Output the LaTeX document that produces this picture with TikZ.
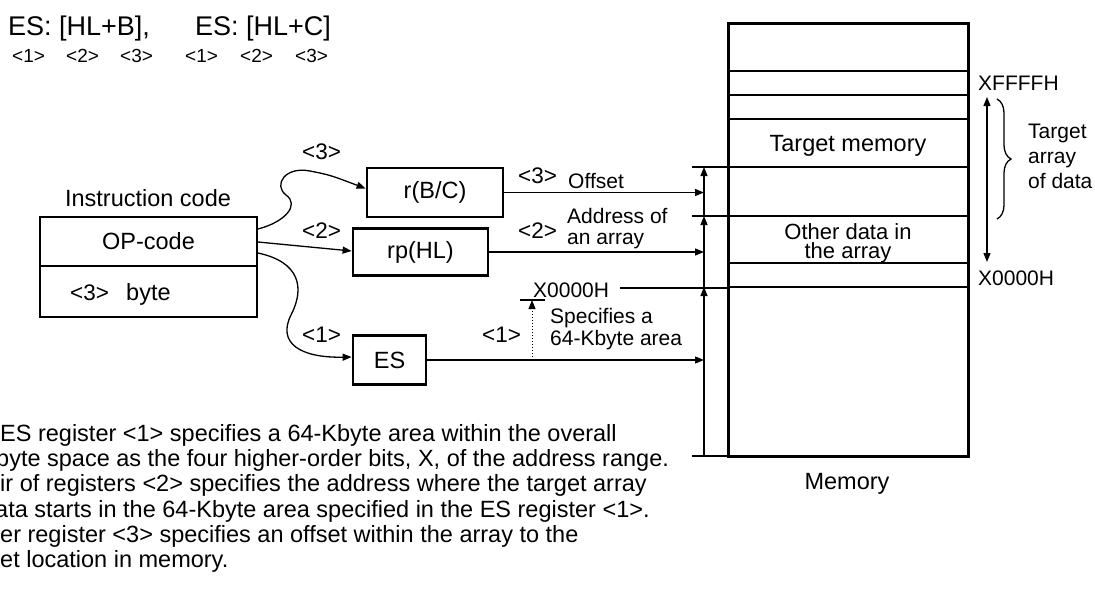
\documentclass[tikz,border=0pt]{standalone}
\usepackage{fontspec}
\setmainfont{Liberation Sans}
\usetikzlibrary{arrows.meta,decorations.pathreplacing,calc}
\newcommand\myfs[1]{\fontsize{#1}{#1}\selectfont}
\begin{document}
\begin{tikzpicture}[x=1pt,y=-1pt,
  box/.style={draw,line width=2.8pt,inner sep=0pt,font=\myfs{23.5}},
  lbl/.style={inner sep=0pt,font=\myfs{21},anchor=base west},
  num/.style={inner sep=0pt,font=\myfs{22.5},anchor=base west},
  sub/.style={inner sep=0pt,font=\myfs{19},anchor=base west},
  big/.style={inner sep=0pt,font=\myfs{23.5}},
  note/.style={inner sep=0pt,font=\myfs{23.5},anchor=base west},
  tip/.style={-{Triangle[length=9pt,width=7pt]}},
  conn/.style={line width=1.3pt,tip},
  thinline/.style={line width=1.3pt},
  ]
\useasboundingbox (0,0) rectangle (1095,590);
% title
\node[inner sep=0pt,font=\myfs{27},anchor=base west] (t1) at (8,35) {ES: [HL+B],};
\node[inner sep=0pt,font=\myfs{27},anchor=base west] (t2) at (195,35) {ES: [HL+C]};
\node[sub] (a1) at (12,62) {<1>};
\node[sub] (a2) at (66,62) {<2>};
\node[sub] (a3) at (120,62) {<3>};
\node[sub] (b1) at (185,62) {<1>};
\node[sub] (b2) at (240,62) {<2>};
\node[sub] (b3) at (295,62) {<3>};
% instruction
\node[big,anchor=base] (ic) at (148,206) {Instruction code};
\node[box,minimum width=217pt,minimum height=49pt] (op) at (148.5,241.5) {OP-code};
\node[box,minimum width=217pt,minimum height=51pt] (bb) at (148.5,291.5) {};
\node[num] (bn) at (70,300) {<3>};
\node[big,anchor=base west] (bt) at (126,300) {byte};
% registers
\node[box,minimum width=136pt,minimum height=49pt] (r) at (435,192.5) {r(B/C)};
\node[box,minimum width=135pt,minimum height=47pt] (rp) at (420.5,252) {rp(HL)};
\node[box,minimum width=73pt,minimum height=49pt] (es) at (389.5,360) {ES};
\node[num] (l3) at (302,159) {<3>};
\node[num] (l2) at (302,238) {<2>};
\node[num] (l1) at (302,342) {<1>};
% curves
\coordinate (s1) at (258,229);
\coordinate (s2) at (258,242);
\coordinate (s3) at (258,253);
\draw[conn] (s1) .. controls (285,222) and (300,205) .. (286,195) .. controls (273,185) and (285,166) .. (310,171) .. controls (330,175) .. ($(r.west)+(0,-4)$);
\draw[conn] (s2) -- ($(rp.west)+(0,-1)$);
\draw[conn] (s3) .. controls (300,262) and (305,288) .. (291,315) .. controls (277,343) and (300,358) .. ($(es.west)+(0,-3)$);
% memory
\node[draw,line width=3pt,minimum width=240pt,minimum height=433pt,inner sep=0pt] (mem) at (848,239.5) {};
\foreach \yy in {71,95,119,167,263,287} \draw[line width=1.4pt] (728,\yy) -- (968,\yy);
\draw[line width=2pt] (728,216) -- (968,216);
\node[big,anchor=base] (tm) at (848,151) {Target memory};
\node[inner sep=0pt,font=\myfs{22},anchor=base] (od1) at (848,239) {Other data in};
\node[inner sep=0pt,font=\myfs{22},anchor=base] (od2) at (848,258) {the array};
\node[big,anchor=base] (mm) at (847,489) {Memory};
\node[lbl] (xf) at (978,90) {XFFFFH};
\node[lbl] (x0) at (978,285) {X0000H};
\node[lbl] (ta1) at (1028,138) {Target};
\node[lbl] (ta2) at (1028,163) {array};
\node[lbl] (ta3) at (1028,188) {of data};
\coordinate (da) at (987,97);
\coordinate (db) at (987,262);
\draw[thinline,{Triangle[length=9pt,width=7pt]}-{Triangle[length=9pt,width=7pt]}] (da) -- (db);
\coordinate (ba) at (997,99);
\coordinate (bz) at (997,219);
\draw[thinline,decorate,decoration={brace,amplitude=14pt}] (ba) -- (bz);
% vertical address line
\coordinate (v0) at (704,456);
\coordinate (v1) at (704,287);
\coordinate (v2) at (704,216);
\coordinate (v3) at (704,167);
\draw[conn] (v0) -- (v1);
\draw[conn] (v1) -- (v2);
\draw[conn] (v2) -- (v3);
\draw[thinline] (692,167) -- (728,167);
\draw[thinline] (692,216) -- (728,216);
\draw[thinline] (620,288) -- (728,288);
\draw[thinline] (692,456) -- (728,456);
% register outputs
\draw[conn] (r.east) -- (r.east -| v0);
\draw[conn] (rp.east) -- (rp.east -| v0);
\draw[conn] (es.east) -- (es.east -| v0);
\node[num] (o3) at (518,183) {<3>};
\node[lbl] (of) at (568,188) {Offset};
\node[num] (o2) at (518,238) {<2>};
\node[lbl] (ad1) at (567,223) {Address of};
\node[lbl] (ad2) at (567,244) {an array};
\coordinate (dt) at (532,300);
\draw[line width=1pt,dotted] (dt |- es.east) -- ($(dt)+(0,6)$);
\draw[line width=1pt,tip] ($(dt)+(0,7)$) -- (dt);
\draw[thinline] (520,300) -- (545,300);
\node[lbl] (xl) at (533,297) {X0000H};
\node[num] (o1) at (482,342) {<1>};
\node[lbl] (sp1) at (550,323) {Specifies a};
\node[lbl] (sp2) at (550,345) {64-Kbyte area};
% notes
\node[note] (n1) at (0,441) {ES register <1> specifies a 64-Kbyte area within the overall};
\node[note] (n2) at (-4,466.3) {byte space as the four higher-order bits, X, of the address range.};
\node[note] (n3) at (0,491.6) {ir of registers <2> specifies the address where the target array};
\node[note] (n4) at (-5,517) {ata starts in the 64-Kbyte area specified in the ES register <1>.};
\node[note] (n5) at (0,542.2) {er register <3> specifies an offset within the array to the};
\node[note] (n6) at (0,567.5) {et location in memory.};
\end{tikzpicture}
\end{document}
